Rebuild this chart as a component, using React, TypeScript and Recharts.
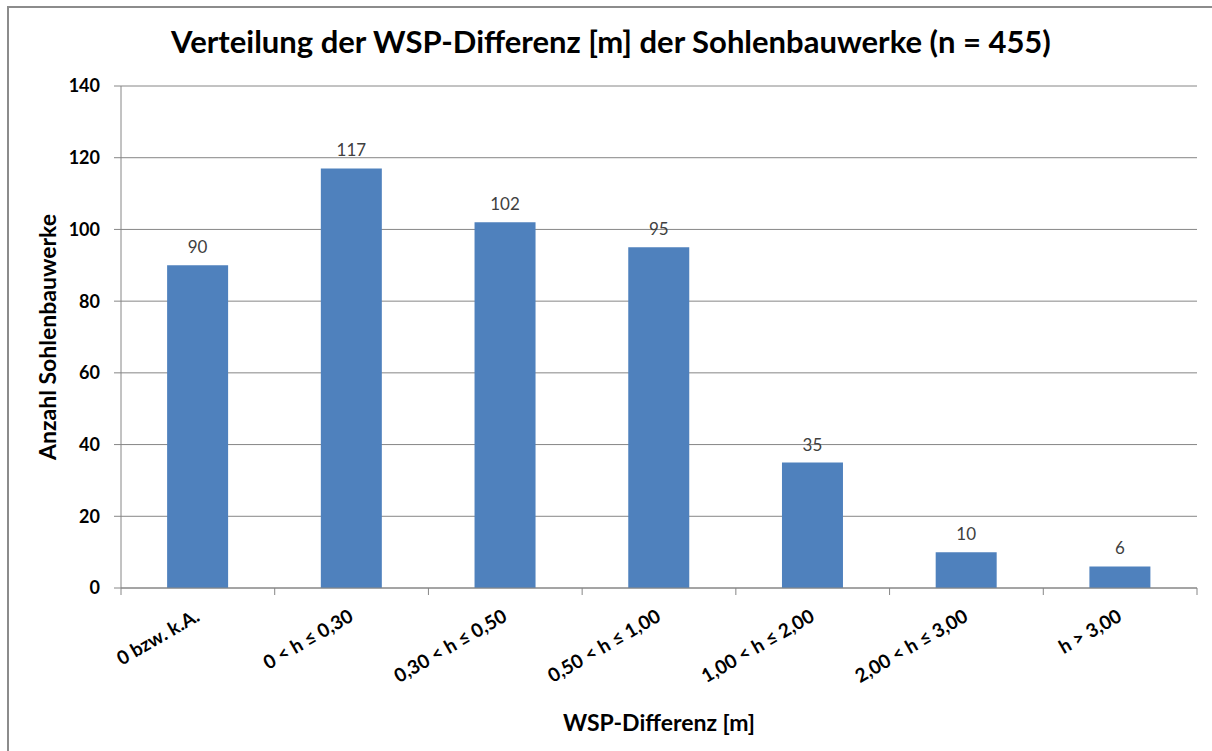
import React from "react";
import { BarChart, Bar, XAxis, YAxis, CartesianGrid, LabelList, Label } from "recharts";

const categories = [
  "0 bzw. k.A.",
  "0 < h ≤ 0,30",
  "0,30 < h ≤ 0,50",
  "0,50 < h ≤ 1,00",
  "1,00 < h ≤ 2,00",
  "2,00 < h ≤ 3,00",
  "h > 3,00",
];
const counts = [90, 117, 102, 95, 35, 10, 6];
const yTicks = [0, 20, 40, 60, 80, 100, 120, 140];

const title = "Verteilung der WSP-Differenz [m] der Sohlenbauwerke (n = 455)";
const xTitle = "WSP-Differenz [m]";
const yTitle = "Anzahl Sohlenbauwerke";

const data = categories.map((c, i) => ({ name: c, value: counts[i] }));

const FONT = "Lato, 'Open Sans', sans-serif";
const GRID = "#868686";

const XTick = (props: any) => {
  const { x, y, payload, index, visibleTicksCount } = props;
  const off = payload && payload.offset ? payload.offset : 0;
  const isLast = index === visibleTicksCount - 1;
  return (
    <g>
      <line x1={x - off} x2={x - off} y1={y} y2={y + 7} stroke={GRID} />
      {isLast && <line x1={x + off} x2={x + off} y1={y} y2={y + 7} stroke={GRID} />}
      <text
        x={x + 3}
        y={y + 32}
        textAnchor="end"
        transform={`rotate(-30, ${x + 3}, ${y + 32})`}
        fontFamily={FONT}
        fontWeight="bold"
        fontSize={19}
        fill="#000"
      >
        {payload.value}
      </text>
    </g>
  );
};

export default function App() {
  return (
    <div style={{ position: "absolute", left: 0, top: 0, width: 1212, height: 751, overflow: "hidden", background: "#fff" }}>
      <div
        style={{
          position: "absolute",
          left: 7,
          top: 6,
          width: 2000,
          height: 2000,
          borderLeft: "2px solid #8c8c8c",
          borderTop: "2px solid #8c8c8c",
        }}
      />
      <div
        style={{
          position: "absolute",
          left: 10,
          top: 21,
          width: 1202,
          textAlign: "center",
          fontFamily: FONT,
          fontWeight: "bold",
          fontSize: 31,
          color: "#000",
          lineHeight: "40px",
        }}
      >
        {title}
      </div>
      <div style={{ position: "absolute", left: 0, top: 0 }}>
        <BarChart
          width={1212}
          height={751}
          data={data}
          margin={{ top: 86, right: 15, bottom: 0, left: 0 }}
          barCategoryGap="30%"
        >
          <CartesianGrid horizontal vertical={false} stroke={GRID} strokeDasharray="" />
          <XAxis
            dataKey="name"
            height={163}
            interval={0}
            stroke={GRID}
            tickLine={false}
            tickSize={0}
            tickMargin={0}
            tick={<XTick />}
          >
            <Label
              content={(p: any) => {
                const vb = p.viewBox;
                return (
                  <text
                    x={vb.x + vb.width / 2}
                    y={731}
                    textAnchor="middle"
                    fontFamily={FONT}
                    fontWeight="bold"
                    fontSize={23}
                    fill="#000"
                  >
                    {xTitle}
                  </text>
                );
              }}
            />
          </XAxis>
          <YAxis
            width={121}
            domain={[0, 140]}
            ticks={yTicks}
            interval={0}
            stroke={GRID}
            tickSize={7}
            tickMargin={14}
            tick={{ fontFamily: FONT, fontWeight: "bold", fontSize: 18, fill: "#000" }}
          >
            <Label
              content={(p: any) => {
                const vb = p.viewBox;
                const cy = vb.y + vb.height / 2;
                return (
                  <text
                    x={47}
                    y={cy}
                    textAnchor="middle"
                    dominantBaseline="central"
                    transform={`rotate(-90, 47, ${cy})`}
                    fontFamily={FONT}
                    fontWeight="bold"
                    fontSize={23}
                    fill="#000"
                  >
                    {yTitle}
                  </text>
                );
              }}
            />
          </YAxis>
          <Bar dataKey="value" fill="#4F81BD" isAnimationActive={false}>
            <LabelList
              dataKey="value"
              position="top"
              offset={12}
              fontFamily={FONT}
              fontSize={17}
              fill="#404040"
            />
          </Bar>
        </BarChart>
      </div>
    </div>
  );
}
